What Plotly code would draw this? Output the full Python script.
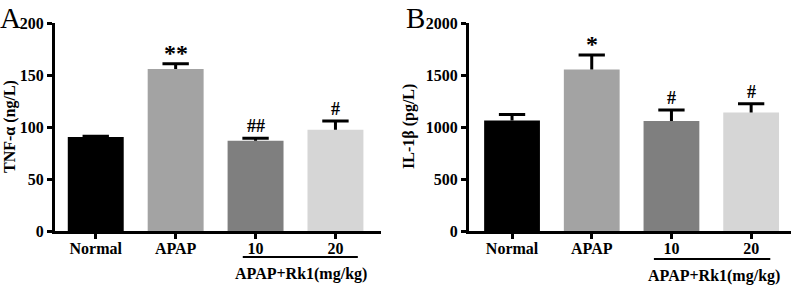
import plotly.graph_objects as go

# ---- data ----
categories = ["Normal", "APAP", "10", "20"]
tnf_values = [90.5, 156, 87, 97.5]
tnf_errors = [0.8, 5, 2.2, 8.5]
tnf_marks = ["", "**", "##", "#"]

il1b_values = [1065, 1555, 1060, 1140]
il1b_errors = [58, 140, 105, 85]
il1b_marks = ["", "*", "#", "#"]

bar_colors = ["#000000", "#a3a3a3", "#7f7f7f", "#d6d6d6"]
group_label = "APAP+Rk1(mg/kg)"
tnf_title = "TNF-α (ng/L)"
il1b_title = "IL-1β (pg/L)"
tnf_ticks = [0, 50, 100, 150, 200]
il1b_ticks = [0, 500, 1000, 1500, 2000]

W, H = 792, 285
FONT = "Liberation Serif, Times New Roman, serif"
CAP = 0.165  # half cap width in category units

def px(x):
    return x / W

def py(y):
    return (H - y) / H

positions = list(range(len(categories)))

def err_lines(values, errors):
    xs, ys = [], []
    for p, v, e in zip(positions, values, errors):
        top = v + e
        xs += [p, p, None, p - CAP, p + CAP, None]
        ys += [v, top, None, top, top, None]
    return xs, ys

fig = go.Figure()

for vals, errs, xa, ya in ((tnf_values, tnf_errors, "x", "y"), (il1b_values, il1b_errors, "x2", "y2")):
    fig.add_trace(go.Bar(
        x=positions, y=vals, marker=dict(color=bar_colors, line=dict(width=0)),
        xaxis=xa, yaxis=ya, showlegend=False, width=0.7,
    ))
    ex, ey = err_lines(vals, errs)
    fig.add_trace(go.Scatter(
        x=ex, y=ey, mode="lines", line=dict(color="black", width=3),
        xaxis=xa, yaxis=ya, showlegend=False, hoverinfo="skip",
    ))

axis_common = dict(showline=True, linewidth=3, linecolor="black", ticks="outside",
                   ticklen=5, tickwidth=3, tickcolor="black", showgrid=False, zeroline=False,
                   automargin=False,
                   tickfont=dict(family=FONT, size=16, color="black", weight="bold"))

y_dom = [py(231), py(23.3)]
fig.update_layout(
    width=W, height=H, margin=dict(l=0, r=0, t=0, b=0),
    plot_bgcolor="white", paper_bgcolor="white",
    xaxis=dict(domain=[px(55), px(381)], range=[-0.51, 3.57], anchor="y",
               tickvals=positions, ticktext=categories, ticklabelstandoff=-4, **axis_common),
    yaxis=dict(domain=y_dom, range=[0, 200], tickvals=tnf_ticks, anchor="x", **axis_common),
    xaxis2=dict(domain=[px(469), px(791)], range=[-0.54, 3.5], anchor="y2",
                tickvals=positions, ticktext=categories, ticklabelstandoff=-4, **axis_common),
    yaxis2=dict(domain=y_dom, range=[0, 2000], tickvals=il1b_ticks, anchor="x2", **axis_common),
)

annos = []
# significance marks
for marks, vals, errs, xr, yr in ((tnf_marks, tnf_values, tnf_errors, "x", "y"),
                                   (il1b_marks, il1b_values, il1b_errors, "x2", "y2")):
    for i, m in enumerate(marks):
        if m:
            star = "*" in m
            annos.append(dict(x=positions[i], y=vals[i] + errs[i], xref=xr, yref=yr,
                              text=f"<b>{m}</b>", showarrow=False, yanchor="bottom",
                              xanchor="center", yshift=-4 if star else 0,
                              font=dict(family=FONT, size=24 if star else 18, color="black")))

# group labels
for xr, xc, yy in (("x", 2.57, 274), ("x2", 2.53, 276)):
    annos.append(dict(x=xc, y=py(yy), xref=xr, yref="paper", text=f"<b>{group_label}</b>",
                      xanchor="center", yanchor="middle",
                      showarrow=False, font=dict(family=FONT, size=16, color="black")))

# y titles
annos.append(dict(x=px(10), y=py(127), xref="paper", yref="paper", text=f"<b>{tnf_title}</b>",
                  xanchor="center", yanchor="middle",
                  textangle=-90, showarrow=False, font=dict(family=FONT, size=16, color="black")))
annos.append(dict(x=px(409), y=py(127), xref="paper", yref="paper", text=f"<b>{il1b_title}</b>",
                  xanchor="center", yanchor="middle",
                  textangle=-90, showarrow=False, font=dict(family=FONT, size=16, color="black")))

# panel letters
annos.append(dict(x=px(10), y=py(18), xref="paper", yref="paper", text="A",
                  xanchor="center", yanchor="middle",
                  showarrow=False, font=dict(family=FONT, size=29, color="black")))
annos.append(dict(x=px(415), y=py(18), xref="paper", yref="paper", text="B",
                  xanchor="center", yanchor="middle",
                  showarrow=False, font=dict(family=FONT, size=29, color="black")))

fig.update_layout(annotations=annos)

# underline below the dose labels
fig.add_shape(type="line", xref="x", yref="paper", x0=1.84, x1=3.28, y0=py(257), y1=py(257),
              line=dict(color="black", width=2))
fig.add_shape(type="line", xref="x2", yref="paper", x0=1.78, x1=3.24, y0=py(259), y1=py(259),
              line=dict(color="black", width=2))

fig.write_html("out.html", config={"displayModeBar": False},
               post_script="document.body.style.margin='0';")
